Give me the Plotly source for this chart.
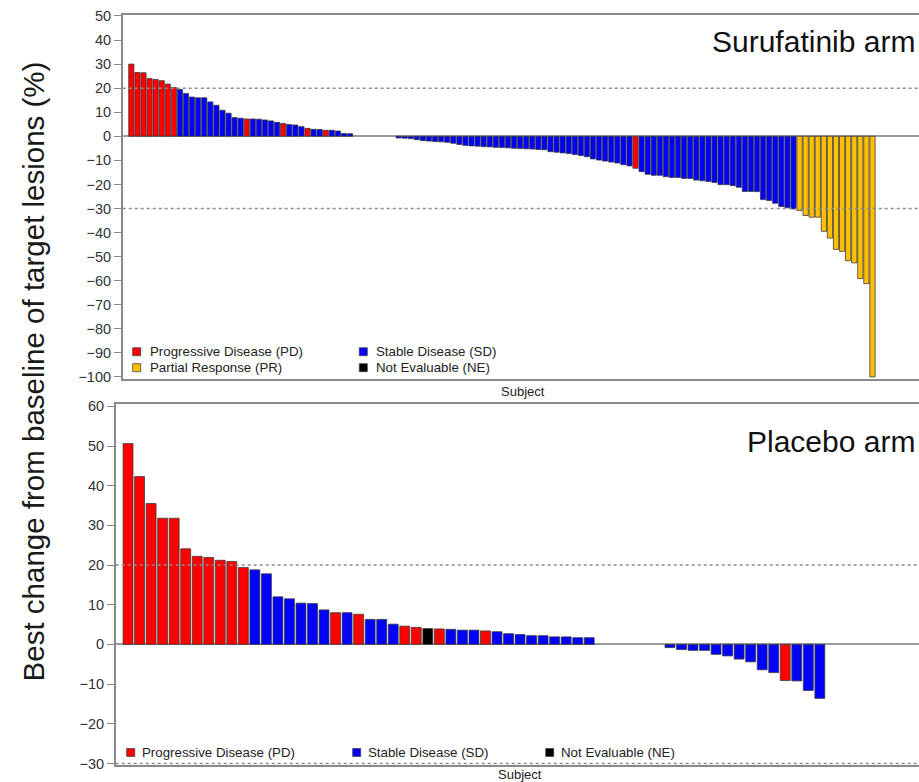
import plotly.graph_objects as go

W, H = 919, 782

# ---------------- data ----------------
# Surufatinib arm: best % change per subject, and best response category
suru_change = [30.0, 26.5, 26.4, 24.0, 23.6, 23.1, 21.7, 20.3,
               19.4, 17.8, 16.3, 16.0, 16.0, 14.3, 12.9, 10.8, 9.6, 7.8, 7.5,
               7.2,
               7.2, 7.1, 6.8, 6.4, 5.8,
               5.3,
               4.9, 4.7, 4.0,
               3.3,
               2.9, 2.8,
               2.5,
               2.5, 2.2, 1.2, 1.1,
               0, 0, 0, 0, 0, 0, 0,
               -0.7, -0.8, -1.0, -1.4, -1.8, -2.0, -2.2, -2.3, -2.5, -2.9,
               -3.4, -3.8, -4.0, -4.1, -4.3, -4.4, -4.6, -4.7, -4.8, -5.0,
               -5.1, -5.2, -5.3, -5.5, -5.6, -6.4, -6.6, -6.9, -7.2, -7.6,
               -8.0, -8.5, -9.4, -9.9, -10.3, -10.7, -11.1, -11.8, -12.3,
               -13.3,
               -14.7, -15.8, -16.2, -16.2, -16.8, -17.1, -17.1, -17.5, -17.5,
               -18.2, -18.5, -18.8, -19.2, -20.1, -20.1, -20.5, -21.2, -22.9,
               -22.9, -23.0, -26.3, -26.7, -27.8, -29.2, -29.7, -30.2,
               -30.8, -32.9, -33.6, -33.6, -39.5, -42.3, -47.0, -47.8, -51.7,
               -52.6, -59.1, -61.2, -100.0]
suru_resp = (["PD"] * 8 + ["SD"] * 11 + ["PD"] + ["SD"] * 5 + ["PD"] + ["SD"] * 3 +
             ["PD"] + ["SD"] * 2 + ["PD"] + ["SD"] * 4 + ["SD"] * 7 + ["SD"] * 39 +
             ["PD"] + ["SD"] * 26 + ["PR"] * 13)

# Placebo arm
plac_change = [50.6, 42.3, 35.5, 31.8, 31.8, 24.1, 22.2, 21.9, 21.2, 20.9, 19.4,
               18.8, 17.8, 12.0, 11.5, 10.4, 10.3, 8.7,
               8.0, 8.0, 7.6,
               6.3, 6.3, 5.1,
               4.6, 4.3, 4.0, 3.9,
               3.8, 3.6, 3.6, 3.4,
               3.2, 2.7, 2.5, 2.2, 2.2, 1.9, 1.9, 1.7, 1.7,
               0, 0, 0, 0, 0, 0,
               -0.8, -1.3, -1.5, -1.5, -2.5, -2.9, -3.7, -4.4, -6.4, -7.1,
               -9.1, -9.2, -11.6, -13.6]
plac_resp = (["PD"] * 11 + ["SD"] * 7 + ["PD", "SD", "PD"] + ["SD"] * 3 +
             ["PD", "PD", "NE", "PD"] + ["SD"] * 3 + ["PD"] + ["SD"] * 9 +
             ["SD"] * 6 + ["SD"] * 10 + ["PD"] + ["SD"] * 3)

resp_colors = {"PD": "#ff0000", "SD": "#0000ff", "PR": "#ffc000", "NE": "#000000"}
resp_labels = {"PD": "Progressive Disease (PD)", "SD": "Stable Disease (SD)",
               "PR": "Partial Response (PR)", "NE": "Not Evaluable (NE)"}

suru_ticks = list(range(-100, 51, 10))
plac_ticks = list(range(-30, 61, 10))
thresholds = [20, -30]

# ---------------- helpers ----------------
def px(x):
    return x / W

def py(y):
    # the capture maps page rows slightly (about 6 + 0.985*y); compensate
    yp = (y - 6.0) / 0.985
    return 1 - yp / H

FONT = "Arial, Liberation Sans, sans-serif"
AXC = "#8a8a8a"

def outline_widths(vals):
    return [0.8 if v != 0 else 0 for v in vals]

fig = go.Figure()

fig.add_trace(go.Bar(
    x=list(range(1, len(suru_change) + 1)), y=suru_change,
    marker=dict(color=[resp_colors[r] for r in suru_resp],
                line=dict(color="#3c3c3c", width=outline_widths(suru_change))),
    xaxis="x", yaxis="y", showlegend=False))

fig.add_trace(go.Bar(
    x=list(range(1, len(plac_change) + 1)), y=plac_change,
    marker=dict(color=[resp_colors[r] for r in plac_resp],
                line=dict(color="#3c3c3c", width=outline_widths(plac_change))),
    xaxis="x2", yaxis="y2", showlegend=False))

common_x = dict(showgrid=False, showticklabels=False, ticks="", zeroline=False,
                showline=True, linecolor=AXC, linewidth=1.5, mirror=True)
common_y = dict(showgrid=False, showline=True, linecolor=AXC, linewidth=1.5,
                ticks="outside", ticklen=7, tickcolor=AXC, tickwidth=1.2,
                tickfont=dict(family=FONT, size=14.5, color="#333333"),
                zeroline=True, zerolinecolor="#9a9a9a", zerolinewidth=1.5)

fig.update_layout(
    width=W, height=H,
    margin=dict(l=0, r=0, t=0, b=0),
    paper_bgcolor="white", plot_bgcolor="white",
    bargap=0.14,
    xaxis=dict(domain=[px(122.7), 1], range=[-0.42, 130.66], anchor="y", **common_x),
    yaxis=dict(domain=[py(379), py(14)], range=[-101, 50.4], anchor="x",
               tickvals=suru_ticks, **common_y),
    xaxis2=dict(domain=[px(115.7), 1], range=[-0.07, 69.6], anchor="y2", **common_x),
    yaxis2=dict(domain=[py(765.7), py(404)], range=[-30.5, 60.5], anchor="x2",
                tickvals=plac_ticks, **common_y),
)

shapes = []
for t in thresholds:
    shapes.append(dict(type="line", xref="x domain", yref="y", x0=0, x1=1, y0=t, y1=t,
                       line=dict(color="#8c8c8c", width=1.5, dash="dot")))
    shapes.append(dict(type="line", xref="x2 domain", yref="y2", x0=0, x1=1, y0=t, y1=t,
                       line=dict(color="#8c8c8c", width=1.5, dash="dot")))

annotations = []

def legend_item(code, sx, sy, tx):
    shapes.append(dict(type="rect", xref="paper", yref="paper",
                       x0=px(sx), x1=px(sx + 8), y0=py(sy + 4), y1=py(sy - 4),
                       fillcolor=resp_colors[code], line=dict(color="#444444", width=0.8)))
    annotations.append(dict(xref="paper", yref="paper", x=px(tx), y=py(sy),
                            xanchor="left", yanchor="middle", showarrow=False,
                            text=resp_labels[code],
                            font=dict(family=FONT, size=13.3, color="#222222")))

# top legend
legend_item("PD", 132.7, 351.3, 147.5)
legend_item("PR", 132.7, 367.3, 147.5)
legend_item("SD", 359.3, 351.3, 373.5)
legend_item("NE", 359.3, 367.3, 373.5)
# bottom legend
legend_item("PD", 126.7, 752.7, 140)
legend_item("SD", 352.7, 752.7, 365.5)
legend_item("NE", 545.7, 752.7, 558.5)

annotations += [
    dict(xref="paper", yref="paper", x=px(917), y=py(41), xanchor="right", yanchor="middle",
         showarrow=False, text="Surufatinib arm", font=dict(family=FONT, size=30, color="#111111")),
    dict(xref="paper", yref="paper", x=px(917), y=py(441), xanchor="right", yanchor="middle",
         showarrow=False, text="Placebo arm", font=dict(family=FONT, size=30, color="#111111")),
    dict(xref="paper", yref="paper", x=px(33), y=py(371), xanchor="center", yanchor="middle",
         showarrow=False, textangle=-90,
         text="Best change from baseline of target lesions (%)",
         font=dict(family=FONT, size=29.5, color="#1a1a1a")),
    dict(xref="paper", yref="paper", x=px(523), y=py(391), xanchor="center", yanchor="middle",
         showarrow=False, text="Subject", font=dict(family=FONT, size=13, color="#222222")),
    dict(xref="paper", yref="paper", x=px(520), y=py(775), xanchor="center", yanchor="middle",
         showarrow=False, text="Subject", font=dict(family=FONT, size=13, color="#222222")),
]

fig.update_layout(shapes=shapes, annotations=annotations)

PAGE_FIX = (
    "var gd=document.getElementById('{plot_id}');"
    "document.documentElement.style.cssText='margin:0;padding:0;overflow:hidden;height:782px;width:919px;';"
    "document.body.style.cssText='margin:0;padding:0;overflow:hidden;height:782px;width:919px;';"
    "gd.style.position='fixed';gd.style.top='0px';gd.style.left='0px';"
)

fig.write_html("out.html", config={"displayModeBar": False}, post_script=PAGE_FIX)
